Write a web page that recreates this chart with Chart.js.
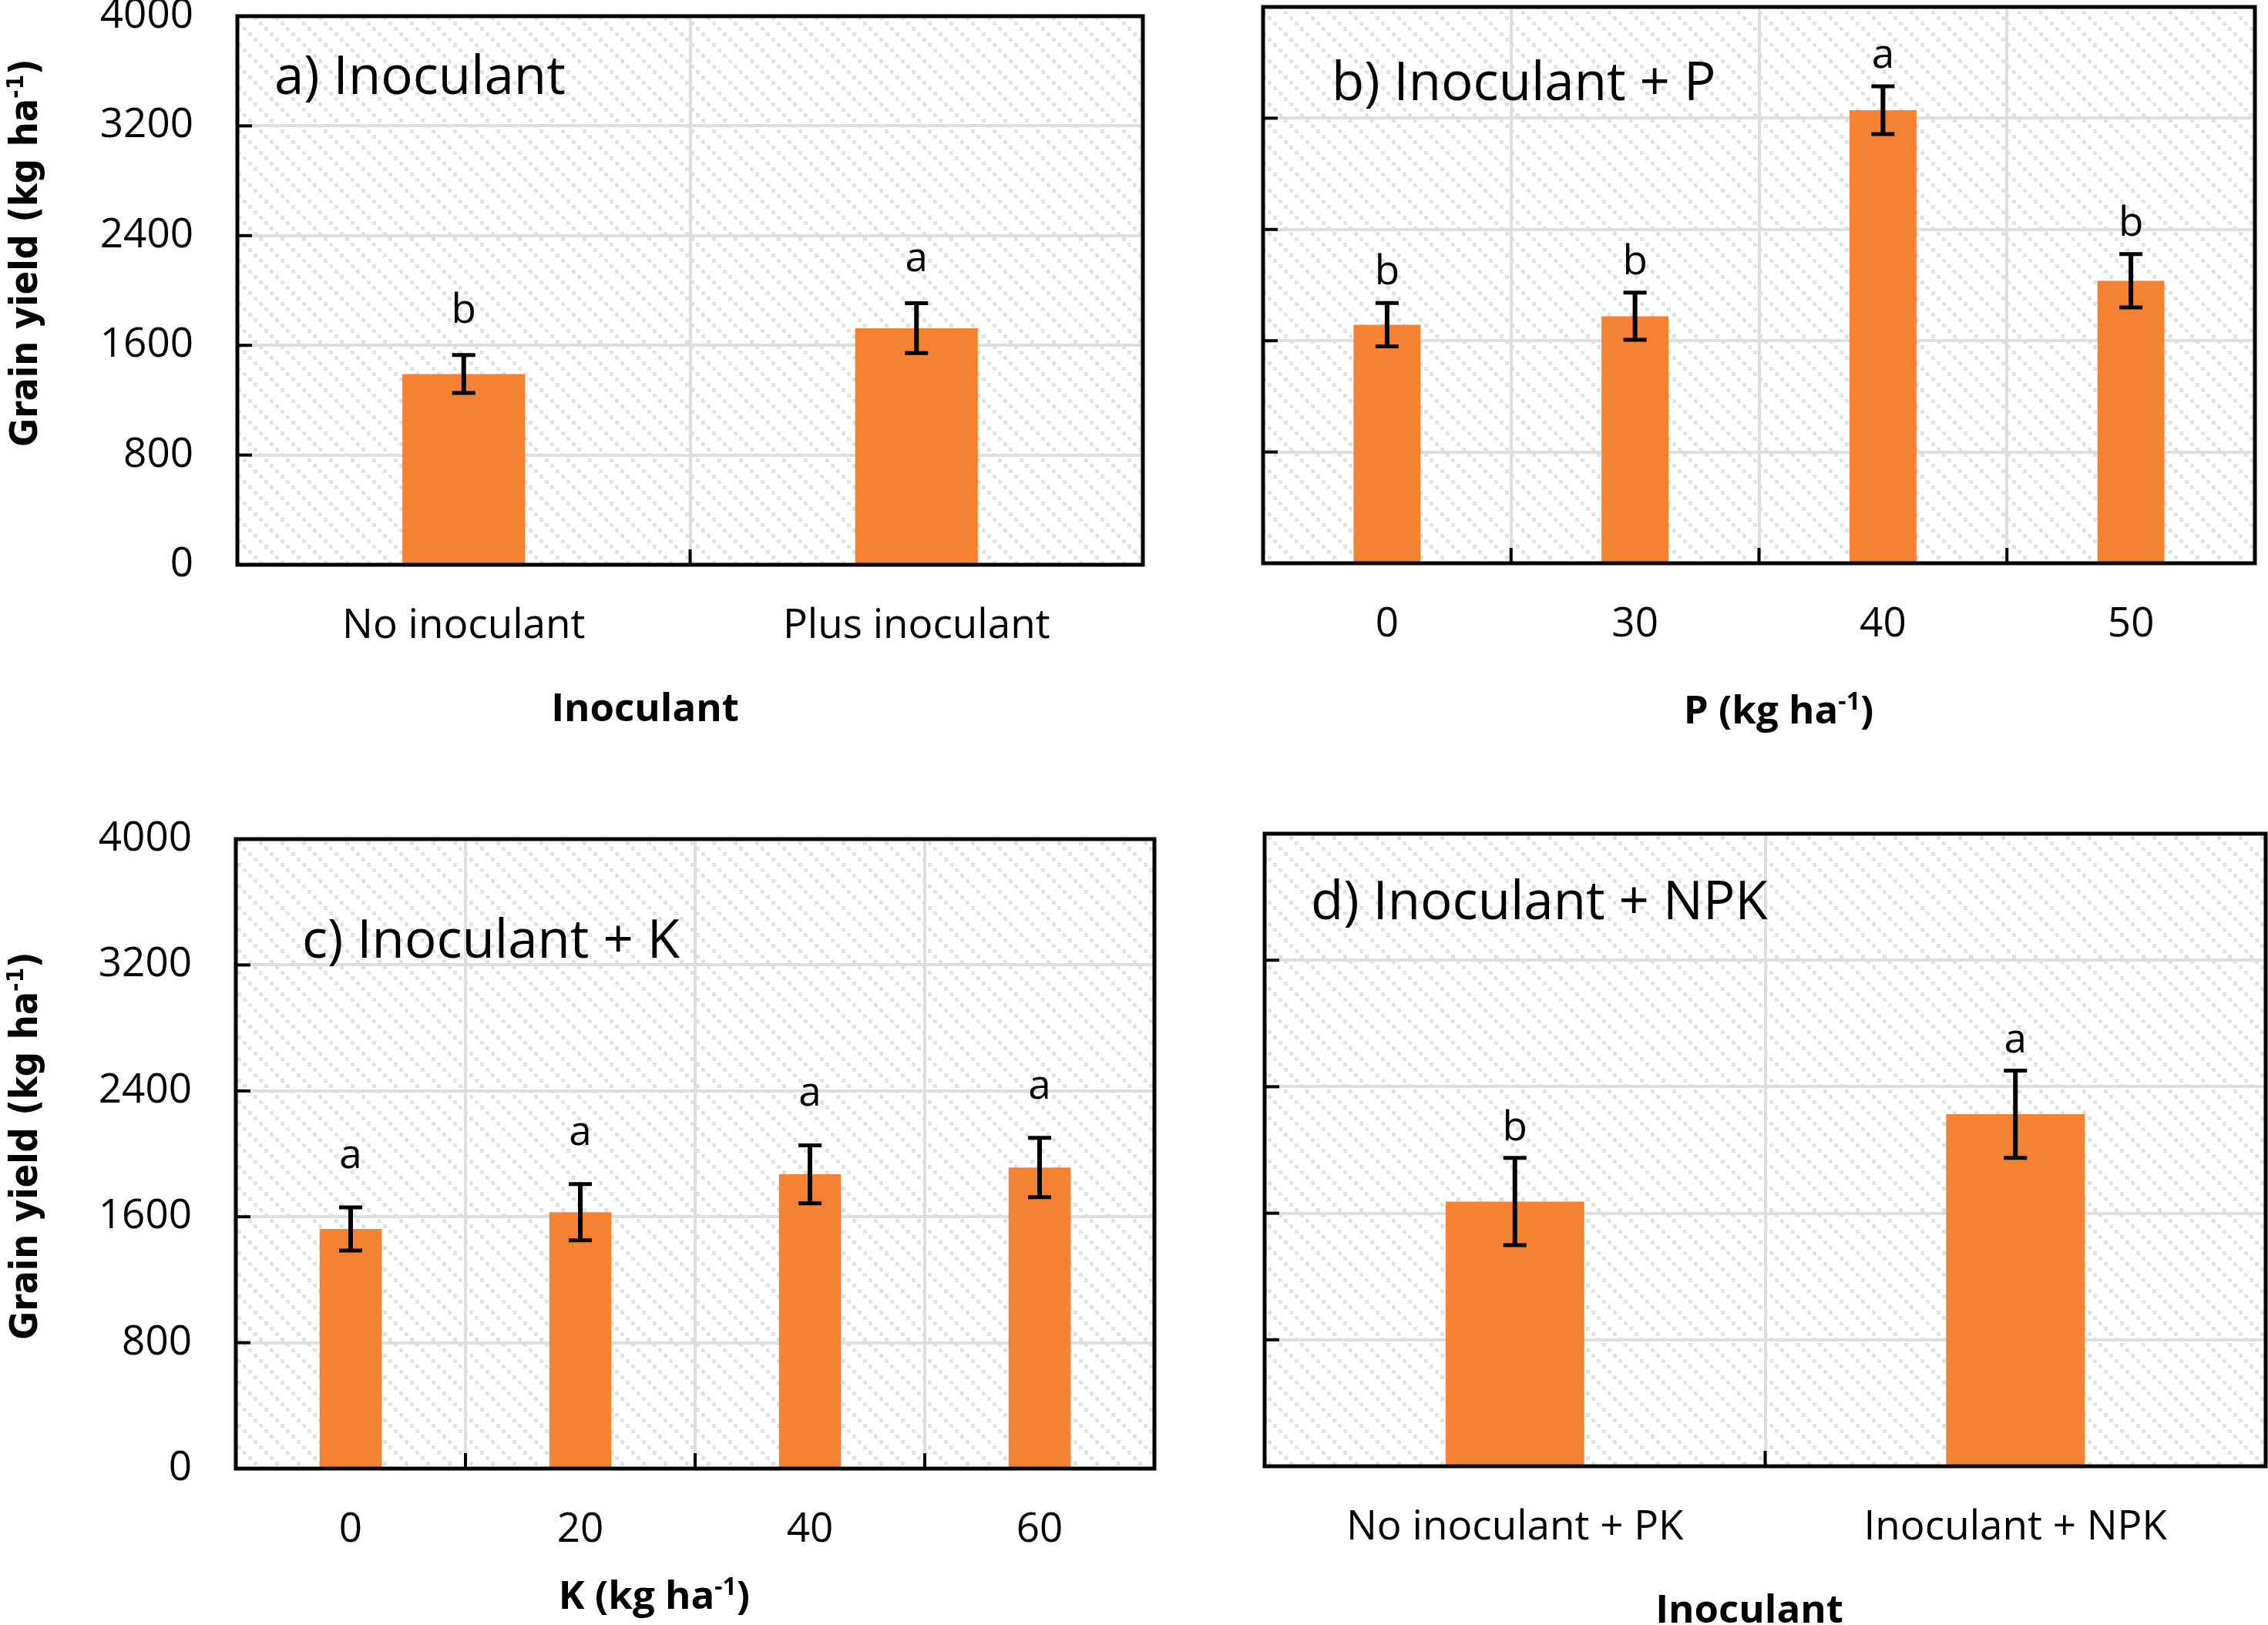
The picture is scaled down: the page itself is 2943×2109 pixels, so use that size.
<!DOCTYPE html>
<html><head><meta charset="utf-8">
<script src="https://cdn.jsdelivr.net/npm/chart.js@4.4.1/dist/chart.umd.min.js"></script>
<style>
html,body{margin:0;padding:0;background:#fff;width:2943px;height:2109px;overflow:hidden}
canvas{position:absolute;left:0;top:0}
</style></head><body>
<canvas id="ca"></canvas><canvas id="cb"></canvas><canvas id="cc"></canvas><canvas id="cd"></canvas>
<script>
// ---------------- data ----------------
const yTicks = [0, 800, 1600, 2400, 3200, 4000];

const aCategories = ['No inoculant', 'Plus inoculant'];
const aYield = [1391, 1725];
const aError = [138, 182];
const aLetters = ['b', 'a'];

const bCategories = ['0', '30', '40', '50'];
const bYield = [1715, 1776, 3258, 2031];
const bError = [156, 170, 172, 192];
const bLetters = ['b', 'b', 'a', 'b'];

const cCategories = ['0', '20', '40', '60'];
const cYield = [1523, 1629, 1870, 1913];
const cError = [137, 179, 184, 189];
const cLetters = ['a', 'a', 'a', 'a'];

const dCategories = ['No inoculant + PK', 'Inoculant + NPK'];
const dYield = [1674, 2226];
const dError = [276, 276];
const dLetters = ['b', 'a'];

const yTitleRuns = [{t:'Grain yield (kg ha'},{t:'-1',sup:true},{t:')'}];
// ---------------- style ----------------
const W = 2943, H = 2109, XH = 200;
const ORANGE = '#F58232', GRID = '#dedede';
const SANS = '"Open Sans", "Noto Sans", sans-serif';
const YFONT = '"DejaVu Sans Condensed", "DejaVu Sans", sans-serif';

const tile = document.createElement('canvas');
tile.width = 28; tile.height = 28;
const tc = tile.getContext('2d');
tc.fillStyle = '#fff'; tc.fillRect(0,0,28,28);
tc.fillStyle = '#e1e1e1';
for (let k = 0; k < 4; k++) tc.fillRect(k*7, k*7, 5, 5);

const panels = [
  {id:'ca', cats:aCategories, vals:aYield, errs:aError, letters:aLetters,
   area:{l:308,t:21,r:1483,b:733}, yLabels:true, barPct:0.271, letterGap:42,
   title:'a) Inoculant', titleX:356, titleY:122,
   xTitle:[{t:'Inoculant'}], xTitleX:837, xTitleY:936,
   yTitle:true, yTitleX:48, yTitleY:328},
  {id:'cb', cats:bCategories, vals:bYield, errs:bError, letters:bLetters,
   area:{l:1639,t:9,r:2926,b:731}, yLabels:false, barPct:0.27, letterGap:24,
   title:'b) Inoculant + P', titleX:1728, titleY:130,
   xTitle:[{t:'P (kg ha'},{t:'-1',sup:true},{t:')'}], xTitleX:2308, xTitleY:939,
   yTitle:false},
  {id:'cc', cats:cCategories, vals:cYield, errs:cError, letters:cLetters,
   area:{l:306,t:1089,r:1498,b:1906}, yLabels:true, barPct:0.27, letterGap:51,
   title:'c) Inoculant + K', titleX:392, titleY:1243,
   xTitle:[{t:'K (kg ha'},{t:'-1',sup:true},{t:')'}], xTitleX:849, xTitleY:2088,
   yTitle:true, yTitleX:48, yTitleY:1487},
  {id:'cd', cats:dCategories, vals:dYield, errs:dError, letters:dLetters,
   area:{l:1641,t:1082,r:2940,b:1903}, yLabels:false, barPct:0.277, letterGap:23,
   title:'d) Inoculant + NPK', titleX:1701, titleY:1193,
   xTitle:[{t:'Inoculant'}], xTitleX:2270, xTitleY:2106,
   yTitle:false}
];

function drawRuns(ctx, runs, weight, size, family, cx, baseline){
  let total = 0;
  runs.forEach(r => {
    ctx.font = weight + ' ' + (r.sup ? Math.round(size*0.62) : size) + 'px ' + family;
    r.w = ctx.measureText(r.t).width; total += r.w;
  });
  let x = cx - total/2;
  ctx.textAlign = 'left'; ctx.textBaseline = 'alphabetic';
  runs.forEach(r => {
    ctx.font = weight + ' ' + (r.sup ? Math.round(size*0.62) : size) + 'px ' + family;
    ctx.fillText(r.t, x, baseline - (r.sup ? size*0.36 : 0));
    x += r.w;
  });
}

function panelPlugin(p){
  return {
    id: 'panel_' + p.id,
    beforeDraw(chart){
      const ctx = chart.ctx, a = chart.chartArea;
      ctx.save();
      ctx.fillStyle = ctx.createPattern(tile, 'repeat');
      ctx.fillRect(a.left, a.top, a.right - a.left, a.bottom - a.top);
      ctx.restore();
    },
    afterDatasetsDraw(chart){
      const ctx = chart.ctx, a = chart.chartArea, xs = chart.scales.x, ys = chart.scales.y;
      ctx.save();
      ctx.strokeStyle = '#000'; ctx.fillStyle = '#000';
      ctx.lineWidth = 5;
      ctx.strokeRect(a.left, a.top, a.right - a.left, a.bottom - a.top);
      ctx.lineWidth = 4;
      ys.ticks.forEach(t => {
        if (t.value > ys.min && t.value < ys.max) {
          const py = ys.getPixelForValue(t.value);
          ctx.beginPath(); ctx.moveTo(a.left, py); ctx.lineTo(a.left + 19, py); ctx.stroke();
        }
      });
      for (let i = 0; i < p.cats.length - 1; i++) {
        const px = (xs.getPixelForValue(i) + xs.getPixelForValue(i + 1)) / 2;
        ctx.beginPath(); ctx.moveTo(px, a.bottom); ctx.lineTo(px, a.bottom - 20); ctx.stroke();
      }
      p.vals.forEach((v, i) => {
        const px = xs.getPixelForValue(i);
        const top = ys.getPixelForValue(v + p.errs[i]);
        const bot = ys.getPixelForValue(v - p.errs[i]);
        ctx.lineWidth = 6;
        ctx.beginPath(); ctx.moveTo(px, top); ctx.lineTo(px, bot); ctx.stroke();
        ctx.lineWidth = 5;
        ctx.beginPath(); ctx.moveTo(px - 15, top); ctx.lineTo(px + 15, top);
        ctx.moveTo(px - 15, bot); ctx.lineTo(px + 15, bot); ctx.stroke();
        ctx.font = '53px ' + SANS; ctx.textAlign = 'center'; ctx.textBaseline = 'alphabetic';
        ctx.fillText(p.letters[i], px, top - p.letterGap);
      });
      ctx.font = '69px ' + SANS; ctx.textAlign = 'left'; ctx.textBaseline = 'alphabetic';
      ctx.fillText(p.title, p.titleX, p.titleY);
      drawRuns(ctx, p.xTitle.map(r => Object.assign({}, r)), 'bold', 51, SANS, p.xTitleX, p.xTitleY);
      if (p.yTitle) {
        ctx.translate(p.yTitleX, p.yTitleY);
        ctx.rotate(-Math.PI / 2);
        drawRuns(ctx, yTitleRuns.map(r => Object.assign({}, r)), 'bold', 50, YFONT, 0, 0);
      }
      ctx.restore();
    }
  };
}

panels.forEach(p => {
  const cv = document.getElementById(p.id);
  cv.width = W; cv.height = H; cv.style.width = W + 'px'; cv.style.height = H + 'px';
  new Chart(cv, {
    type: 'bar',
    data: { labels: p.cats, datasets: [{ data: p.vals, backgroundColor: ORANGE, borderWidth: 0,
      barPercentage: p.barPct, categoryPercentage: 1 }] },
    options: {
      responsive: false, animation: false, devicePixelRatio: 1, events: [],
      layout: { padding: { left: 0, top: p.area.t, right: W - p.area.r, bottom: H - p.area.b - XH } },
      plugins: { legend: { display: false }, tooltip: { enabled: false }, title: { display: false } },
      scales: {
        x: {
          offset: true,
          grid: { display: true, offset: true, color: GRID, lineWidth: 4, drawTicks: false },
          border: { display: false },
          ticks: { font: { family: SANS, size: 53 }, color: '#000', padding: 48, maxRotation: 0, minRotation: 0, autoSkip: false },
          afterFit(s) { s.height = XH; s.paddingLeft = 0; s.paddingRight = 0; }
        },
        y: {
          min: 0, max: 4000,
          afterBuildTicks(s) { s.ticks = yTicks.map(v => ({ value: v })); },
          grid: { color: GRID, lineWidth: 4, drawTicks: false },
          border: { display: false },
          ticks: { display: p.yLabels, font: { family: SANS, size: 53 }, color: '#000', padding: 57,
                   callback: v => String(v) },
          afterFit(s) { s.width = p.area.l; s.paddingTop = 0; s.paddingBottom = 0; }
        }
      }
    },
    plugins: [panelPlugin(p)]
  });
});
</script>
</body></html>
